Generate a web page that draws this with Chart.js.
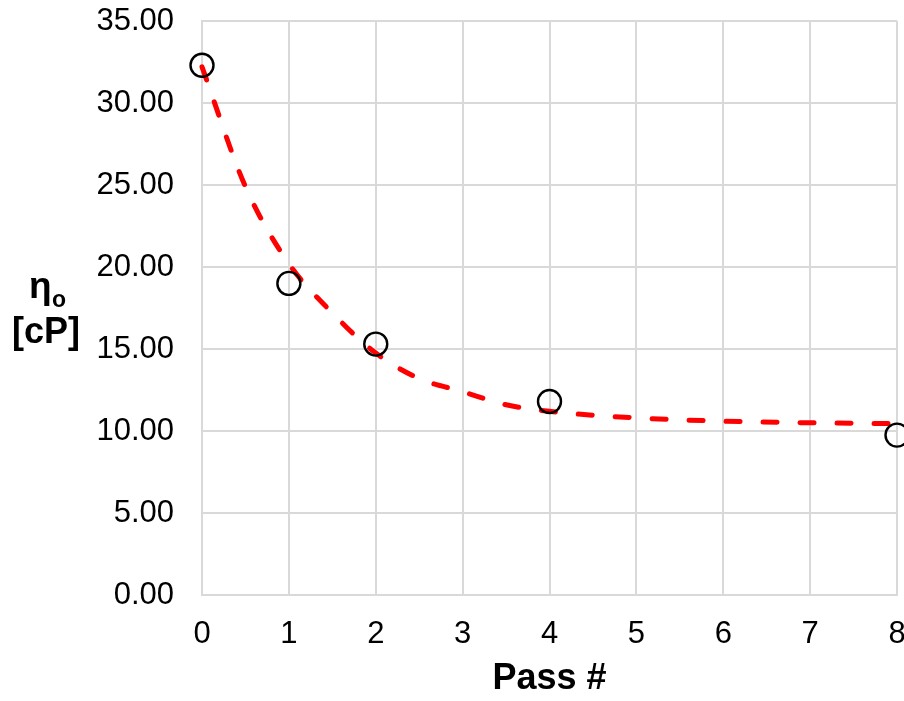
<!DOCTYPE html>
<html>
<head>
<meta charset="utf-8">
<script src="https://cdn.jsdelivr.net/npm/chart.js@4"></script>
<style>
  html, body { margin: 0; padding: 0; background: #fff; }
  #wrap { width: 904px; height: 701px; }
</style>
</head>
<body>
<div id="wrap"><canvas id="chartVisc" width="904" height="701"></canvas></div>
<script>
// measured points (pass number vs zero-shear viscosity)
const passNo = [0, 1, 2, 4, 8];
const viscosity = [32.3, 19.0, 15.3, 11.8, 9.75];

// red dashed trend curve
const fitX = [0, 0.5, 1, 1.5, 2, 2.5, 3, 3.5, 4, 5, 6, 7, 8];
const fitY = [32.2, 24.9, 20.2, 17.2, 14.75, 13.2, 12.4, 11.6, 11.2, 10.8, 10.6, 10.5, 10.45];

const xTitle = 'Pass #';
const yTitleMain = 'η';
const yTitleSub = 'o';
const yTitleUnit = '[cP]';

const FONT = '"Liberation Sans", Arial, sans-serif';

// horizontal y-axis title with subscript
const yTitlePlugin = {
    id: 'yTitle',
    afterDraw(chart) {
        const c = chart.ctx;
        c.save();
        c.fillStyle = '#000';
        c.textBaseline = 'alphabetic';
        c.textAlign = 'left';
        c.font = 'bold 37px ' + FONT;
        c.fillText(yTitleMain, 29, 298);
        c.font = 'bold 23px ' + FONT;
        c.fillText(yTitleSub, 52, 307);
        c.textAlign = 'center';
        c.font = 'bold 36px ' + FONT;
        c.fillText(yTitleUnit, 46, 343);
        c.restore();
    }
};

function noPad(scale) {
    scale.paddingLeft = 0;
    scale.paddingRight = 0;
    scale.paddingTop = 0;
    scale.paddingBottom = 0;
}

new Chart(document.getElementById('chartVisc'), {
    type: 'scatter',
    data: {
        datasets: [
            {
                label: 'fit',
                type: 'line',
                data: fitX.map((x, i) => ({ x: x, y: fitY[i] })),
                borderColor: '#ff0000',
                borderWidth: 5,
                borderDash: [14, 23],
                borderCapStyle: 'round',
                cubicInterpolationMode: 'monotone',
                pointRadius: 0,
                fill: false,
                order: 2
            },
            {
                label: 'data',
                data: passNo.map((x, i) => ({ x: x, y: viscosity[i] })),
                pointStyle: 'circle',
                pointRadius: 11.5,
                pointBorderWidth: 2.4,
                pointBorderColor: '#000',
                pointBackgroundColor: 'rgba(0,0,0,0)',
                order: 1
            }
        ]
    },
    options: {
        responsive: false,
        animation: false,
        clip: false,
        layout: { autoPadding: false, padding: { top: 21, right: 7, left: 0, bottom: 0 } },
        plugins: {
            legend: { display: false },
            tooltip: { enabled: false }
        },
        scales: {
            x: {
                type: 'linear',
                min: 0,
                max: 8,
                afterFit(scale) { scale.height = 106; noPad(scale); },
                ticks: {
                    stepSize: 1,
                    color: '#000',
                    padding: 21,
                    font: { size: 31, family: FONT }
                },
                grid: { color: '#d9d9d9', lineWidth: 2, drawTicks: false },
                border: { color: '#d9d9d9', width: 2 },
                title: {
                    display: true,
                    text: xTitle,
                    color: '#000',
                    font: { size: 36, weight: 'bold', family: FONT },
                    padding: { top: 0, bottom: 0 }
                }
            },
            y: {
                min: 0,
                max: 35,
                afterFit(scale) { scale.width = 202; noPad(scale); },
                ticks: {
                    stepSize: 5,
                    color: '#000',
                    padding: 28,
                    font: { size: 31, family: FONT },
                    callback: v => v.toFixed(2)
                },
                grid: { color: '#d9d9d9', lineWidth: 2, drawTicks: false },
                border: { color: '#d9d9d9', width: 2 }
            }
        }
    },
    plugins: [yTitlePlugin]
});
</script>
</body>
</html>
